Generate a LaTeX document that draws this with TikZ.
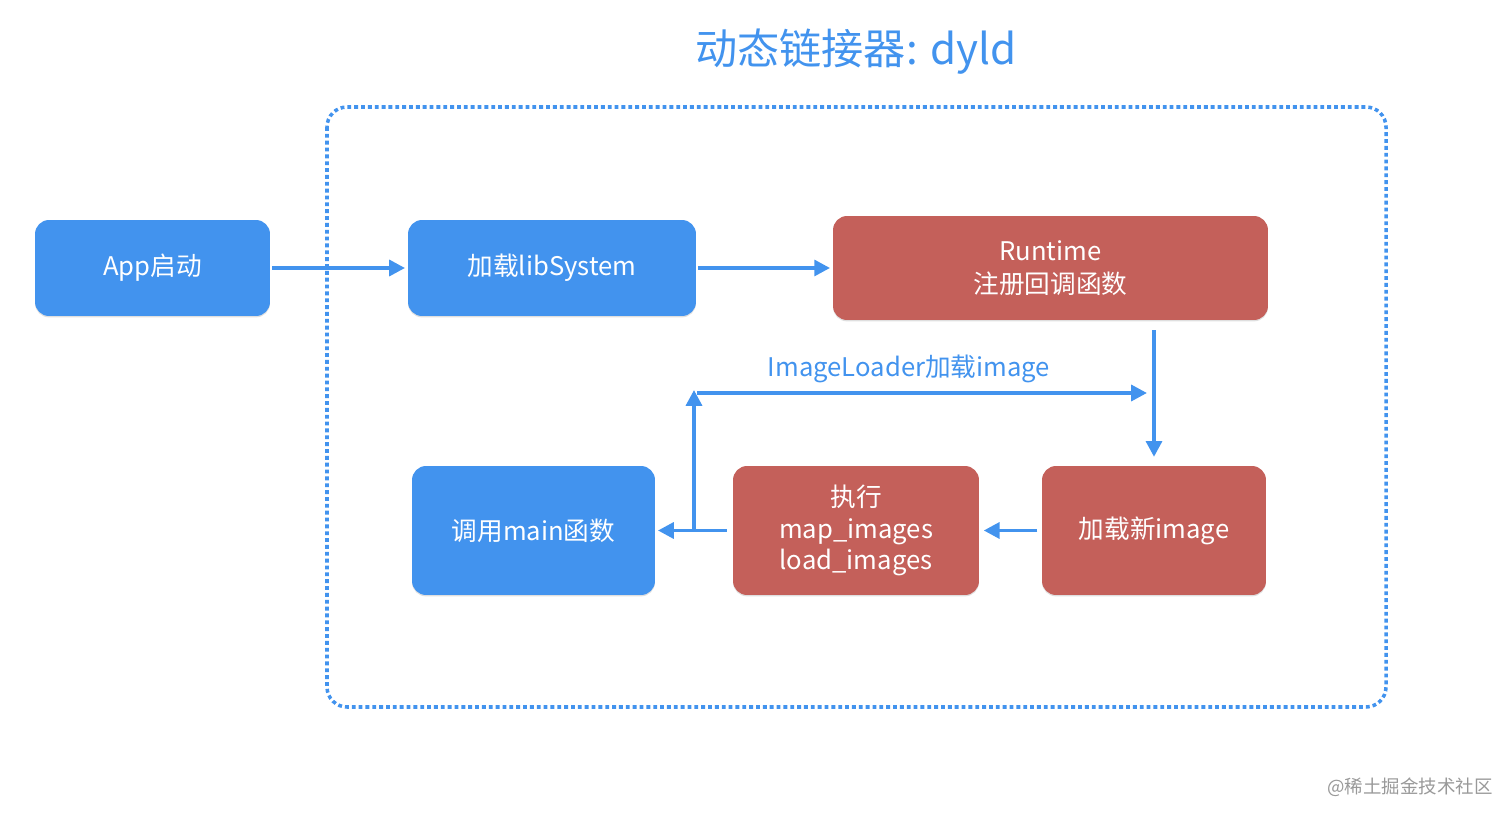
\documentclass[tikz,border=0pt]{standalone}
\usepackage{fontspec}
\setmainfont{Noto Sans CJK SC}
\usetikzlibrary{arrows.meta,shadows}
\definecolor{dyldblue}{RGB}{66,147,238}
\definecolor{dyldred}{RGB}{196,96,90}
\tikzset{
  box/.style={rounded corners=0.28cm, text=white, align=center,
    font=\fontsize{14.6}{19}\selectfont,
    drop shadow={shadow xshift=0pt, shadow yshift=-0.8pt, opacity=.25}},
  bluebox/.style={box, fill=dyldblue},
  redbox/.style={box, fill=dyldred},
  flow/.style={draw=dyldblue, line width=2.1pt, -{Triangle[length=9pt,width=9pt]}},
}
\begin{document}
\begin{tikzpicture}[x=0.02cm, y=-0.02cm]
\useasboundingbox (0,0) rectangle (1512,820);
\node[text=dyldblue, font=\fontsize{24}{29}\selectfont] (title) at (856,52){动态链接器: dyld};
\draw[dyldblue, line width=2pt, dash pattern=on 2.2pt off 1.7pt, rounded corners=0.4cm] (327,107) rectangle (1386,707);
\node[bluebox, minimum width=4.7cm, minimum height=1.92cm] (app) at (152.5,268){App启动};
\node[bluebox, minimum width=5.76cm, minimum height=1.92cm] (lib) at (552,268){加载libSystem};
\node[redbox, minimum width=8.7cm, minimum height=2.08cm] (rt) at (1050.5,268){Runtime\\注册回调函数};
\node[bluebox, minimum width=4.86cm, minimum height=2.58cm] (main) at (533.5,530.5){调用main函数};
\node[redbox, minimum width=4.92cm, minimum height=2.58cm, font=\fontsize{14.6}{18}\selectfont] (exec) at (856,530.5){执行\\map\_images\\load\_images};
\node[redbox, minimum width=4.48cm, minimum height=2.58cm] (newimg) at (1154,530.5){加载新image};
\draw[flow, shorten <=1pt, shorten >=1.5pt] (app) -- (lib);
\draw[flow, shorten <=1pt, shorten >=1.5pt] (lib) -- (rt);
\draw[flow, shorten <=5.5pt, shorten >=5pt] (rt.south -| newimg) -- (newimg.north);
\draw[flow, shorten <=2.5pt, shorten >=2.5pt] (newimg) -- (exec);
\draw[flow, shorten <=3.5pt, shorten >=1.5pt] (exec) -- (main);
\coordinate (jn) at (694,530.5);
\coordinate (jtop) at (694,390);
\coordinate (lstart) at (697,393);
\coordinate (lend) at (1147,393);
\draw[flow] (jn) -- (jtop);
\draw[flow] (lstart) -- (lend);
\node[text=dyldblue, font=\fontsize{14.6}{19}\selectfont] (loadlbl) at (909,369){ImageLoader加载image};
\node[text=black!40, font=\fontsize{10.5}{12}\selectfont] (mark) at (1410,787){@稀土掘金技术社区};
\end{tikzpicture}
\end{document}
